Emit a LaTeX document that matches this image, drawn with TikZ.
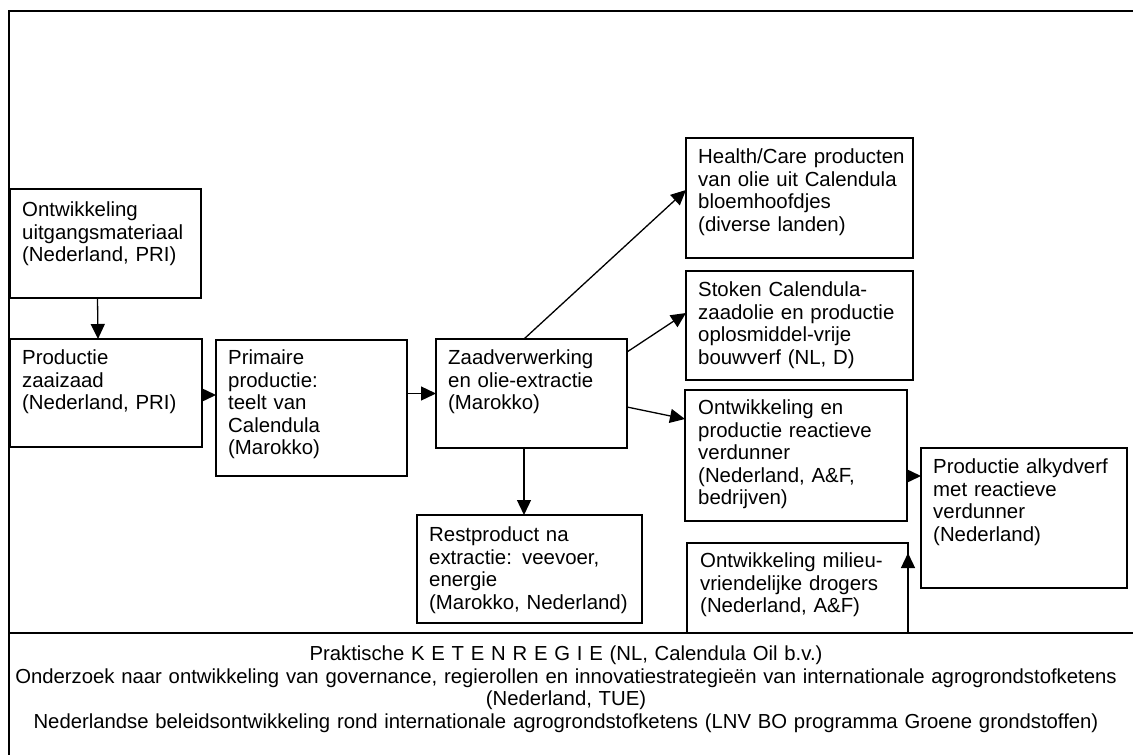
\documentclass[tikz,border=0pt]{standalone}
\usepackage{fontspec}
\setmainfont{Liberation Sans}
\usetikzlibrary{arrows.meta}
\tikzset{
  box/.style={draw, line width=1.4pt, anchor=north west, inner sep=0pt, outer sep=0pt},
  txt/.style={anchor=north west, inner sep=0pt, text width=300pt, align=left,
    font=\fontsize{20.4}{22.5}\selectfont},
  foot/.style={anchor=north, inner sep=0pt, text width=1125pt, align=center,
    font=\fontsize{20.3}{22.5}\selectfont},
  arr/.style={line width=1.3pt, -{Triangle[length=15pt,width=14pt]}},
  frame/.style={line width=2pt}
}
\begin{document}
\begin{tikzpicture}[x=1pt,y=-1pt]
\useasboundingbox (0,0) rectangle (1133,755);
% frame
\coordinate (tl) at (9,11);
\coordinate (tr) at (1133,11);
\coordinate (bl) at (9,755);
\coordinate (dl) at (9,633);
\coordinate (dr) at (1133,633);
\draw[frame] (tr) -- (tl) -- (bl);
\draw[frame] (dl) -- (dr);
% boxes
\node[box, minimum width=191pt, minimum height=109pt] (A) at (10,189) {};
\node[box, minimum width=192pt, minimum height=108pt] (B) at (10,339) {};
\node[box, minimum width=191pt, minimum height=136pt] (C) at (216,340) {};
\node[box, minimum width=191pt, minimum height=109pt] (D) at (436,339) {};
\node[box, minimum width=225pt, minimum height=108pt] (E) at (417,515) {};
\node[box, minimum width=227pt, minimum height=120pt] (F) at (686,138) {};
\node[box, minimum width=227pt, minimum height=109pt] (G) at (686,271) {};
\node[box, minimum width=222pt, minimum height=131pt] (H) at (685,390) {};
\node[box, minimum width=206pt, minimum height=140pt] (I) at (921,448) {};
\node[box, minimum width=221pt, minimum height=90pt] (J) at (687,543) {};
% texts
\node[txt] (tA) at ([xshift=12pt,yshift=-12pt]A.north west) {\strut Ontwikkeling\\uitgangsmateriaal\\(Nederland, PRI)};
\node[txt] (tB) at ([xshift=12pt,yshift=-10pt]B.north west) {\strut Productie\\zaaizaad\\(Nederland, PRI)};
\node[txt] (tC) at ([xshift=12pt,yshift=-9pt]C.north west) {\strut Primaire\\productie:\\teelt van\\Calendula\\(Marokko)};
\node[txt] (tD) at ([xshift=12pt,yshift=-10pt]D.north west) {\strut Zaadverwerking\\en olie-extractie\\(Marokko)};
\node[txt] (tE) at ([xshift=12pt,yshift=-11pt]E.north west) {\strut Restproduct na\\extractie: veevoer,\\energie\\(Marokko, Nederland)};
\node[txt] (tF) at ([xshift=12pt,yshift=-10pt]F.north west) {\strut Health/Care producten\\van olie uit Calendula\\bloemhoofdjes\\(diverse landen)};
\node[txt] (tG) at ([xshift=12pt,yshift=-10pt]G.north west) {\strut Stoken Calendula-\\zaadolie en productie\\oplosmiddel-vrije\\bouwverf (NL, D)};
\node[txt] (tH) at ([xshift=13pt,yshift=-9pt]H.north west) {\strut Ontwikkeling en\\productie reactieve\\verdunner\\(Nederland, A\&F,\\bedrijven)};
\node[txt] (tI) at ([xshift=12pt,yshift=-10pt]I.north west) {\strut Productie alkydverf\\met reactieve\\verdunner\\(Nederland)};
\node[txt] (tJ) at ([xshift=13pt,yshift=-9pt]J.north west) {\strut Ontwikkeling milieu-\\vriendelijke drogers\\(Nederland, A\&F)};
% footer
\node[foot] (foot) at (566,645) {\strut Praktische K E T E N R E G I E (NL, Calendula Oil b.v.)\\
Onderzoek naar ontwikkeling van governance, regierollen en innovatiestrategieën van internationale agrogrondstofketens\\
(Nederland, TUE)\\
Nederlandse beleidsontwikkeling rond internationale agrogrondstofketens (LNV BO programma Groene grondstoffen)};
% connectors
\draw[arr] ([xshift=-8pt]A.south) -- ([xshift=-8pt]B.north);
\draw[arr] ([yshift=-2pt]B.east) -- ([yshift=-2pt]B.east -| C.west);
\draw[arr] (C.east |- D.west) -- (D.west);
\draw[arr] ([xshift=-7.5pt]D.south) -- ([xshift=-7.5pt]D.south |- E.north);
\draw[arr] ([xshift=-7.5pt]D.north) -- ([yshift=8pt]F.west);
\draw[arr] ([yshift=-13pt]D.north east) -- ([yshift=12.5pt]G.west);
\draw[arr] ([yshift=-13.5pt]D.east) -- ([yshift=-29pt]H.north west);
\draw[arr] ([yshift=-20.5pt]H.east) -- ([yshift=-20.5pt]H.east -| I.west);
\draw[arr] (J.south east) -- ([yshift=-10pt]J.north east);
\end{tikzpicture}
\end{document}
